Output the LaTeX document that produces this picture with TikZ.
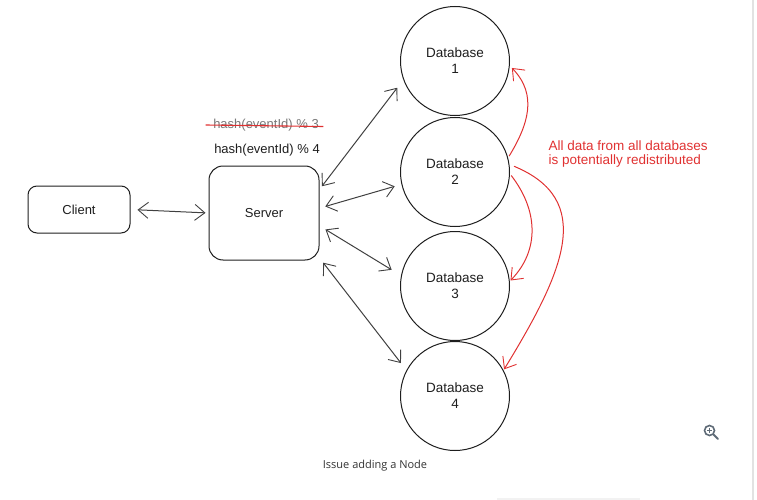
\documentclass[tikz,border=0pt]{standalone}
\usepackage{fontspec}
\setmainfont{Liberation Sans}
\newfontfamily\captionfont{Open Sans}
\usetikzlibrary{arrows.meta}
\definecolor{ink}{HTML}{1E1E1E}
\definecolor{redink}{HTML}{E03131}
\definecolor{iconcol}{HTML}{5F6B77}
\definecolor{edgegray}{HTML}{E2E2E2}
\tikzset{barbtip/.tip={Straight Barb[length=10pt,width=16pt,line width=0.9pt]}}
\begin{document}
\begin{tikzpicture}[x=1pt,y=-1pt,
  every node/.style={text=ink},
  label/.style={font=\fontsize{13}{15}\selectfont},
  dbnode/.style={circle,draw=ink,line width=1pt,minimum size=109pt,inner sep=0pt,
                 align=center,font=\fontsize{13.5}{16}\selectfont},
  boxnode/.style={draw=ink,line width=1pt,rounded corners=9pt,font=\fontsize{13}{15}\selectfont},
  biarrow/.style={draw=ink!85,line width=1pt,barbtip-barbtip},
  redarrow/.style={draw=redink,line width=1pt,-barbtip},
]
\useasboundingbox (0,0) rectangle (757,500);

% nodes
\node[boxnode,minimum width=102pt,minimum height=47pt] (client) at (79,209.5) {Client};
\node[boxnode,minimum width=110pt,minimum height=94pt,rounded corners=14pt] (server) at (264,213) {Server};
\node[dbnode] (db1) at (455,61) {Database\\1};
\node[dbnode] (db2) at (455,172) {Database\\2};
\node[dbnode] (db3) at (455,286) {Database\\3};
\node[dbnode] (db4) at (455,396) {Database\\4};

% hash labels
\node[label,text=ink!60] (oldhash) at (266,125) {hash(eventId) \% 3};
\draw[redink,line width=1.1pt] ([xshift=-4pt]oldhash.west) -- ([xshift=1pt,yshift=-1.5pt]oldhash.east);
\node[label] (newhash) at (267,150) {hash(eventId) \% 4};

% client/server and server/database links
\draw[biarrow,shorten <=7pt,shorten >=3pt] (client.east) -- (server.west);
\draw[biarrow,shorten <=4pt,shorten >=10pt] (server.23) -- (db1.200);
\draw[biarrow,shorten <=6pt,shorten >=7pt] (server.5) -- (db2.193);
\draw[biarrow,shorten <=7pt,shorten >=11pt] (server.347) -- (db3.169);
\draw[biarrow,shorten <=6pt,shorten >=9pt] (server.321) -- (db4.152);

% redistribution arrows
\draw[redarrow,shorten <=2pt,shorten >=3pt] (db2.15) .. controls (528,125) and (538,95) .. (db1.355);
\draw[redarrow,shorten <=2pt,shorten >=1pt] (db2.-2) .. controls (538,210) and (540,250) .. (db3.5);
\draw[redarrow,shorten <=5pt,shorten >=1pt] (db2.8) .. controls (595,200) and (565,270) .. (db4.28);

\node[label,text=redink,anchor=west,align=left,font=\fontsize{13.5}{14.5}\selectfont] (note) at (545,154)
  {All data from all databases\\is potentially redistributed};

% caption and viewer chrome
\node[font=\captionfont\fontsize{11}{12}\selectfont,text=black!80] (caption) at (375,466) {Issue adding a Node};
\node[circle,draw=iconcol,line width=1.6pt,minimum size=10pt,inner sep=0pt] (lens) at (709.5,430.5) {};
\draw[iconcol,line width=1.8pt,line cap=round] (lens.-45) -- ++(4.5,4.5);
\draw[iconcol,line width=1pt] ([xshift=-2.5pt]lens.center) -- ([xshift=2.5pt]lens.center)
  ([yshift=-2.5pt]lens.center) -- ([yshift=2.5pt]lens.center);
\draw[edgegray,line width=1.2pt] (753,0) -- (753,500);
\fill[black!5] (497,497.5) rectangle (640,500);
\end{tikzpicture}
\end{document}
